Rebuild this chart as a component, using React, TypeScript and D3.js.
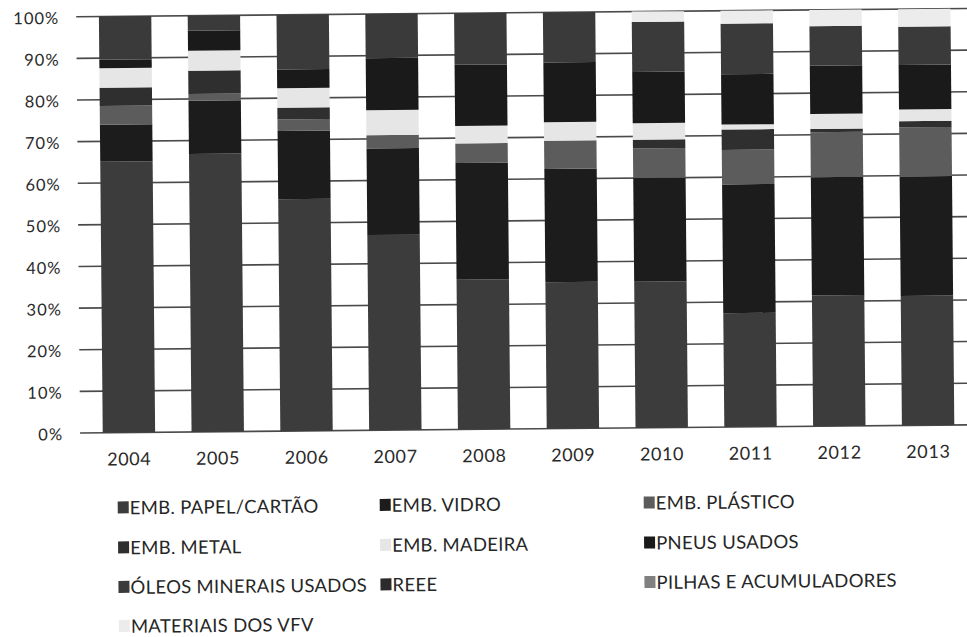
import React from "react";
import * as d3 from "d3";

const years = ["2004", "2005", "2006", "2007", "2008", "2009", "2010", "2011", "2012", "2013"];

const papel = [65.1, 66.8, 55.7, 46.9, 36.0, 35.2, 35.1, 27.4, 31.4, 31.1];
const vidro = [8.9, 12.8, 16.4, 20.8, 28.0, 27.2, 24.9, 31.0, 28.4, 28.7];
const plastico = [4.5, 1.6, 2.8, 3.2, 4.7, 6.8, 7.1, 8.3, 10.8, 11.8];
const metal = [4.4, 5.6, 2.8, 0, 0, 0, 2.1, 4.9, 0.8, 1.5];
const madeira = [4.7, 4.8, 4.7, 6.0, 4.2, 4.4, 4.0, 1.2, 3.6, 2.8];
const pneus = [2.0, 4.8, 4.5, 12.5, 14.7, 14.4, 12.3, 12.1, 11.6, 10.7];
const oleos = [10.4, 3.6, 13.1, 10.6, 12.4, 12.0, 12.0, 12.2, 9.5, 9.2];
const reee = [0, 0, 0, 0, 0, 0, 0, 0, 0, 0];
const pilhas = [0, 0, 0, 0, 0, 0, 0, 0, 0, 0];
const vfv = [0, 0, 0, 0, 0, 0, 2.5, 3.1, 3.9, 4.2];

const seriesNames = [
  "EMB. PAPEL/CARTÃO",
  "EMB. VIDRO",
  "EMB. PLÁSTICO",
  "EMB. METAL",
  "EMB. MADEIRA",
  "PNEUS USADOS",
  "ÓLEOS MINERAIS USADOS",
  "REEE",
  "PILHAS E ACUMULADORES",
  "MATERIAIS DOS VFV",
];
const seriesValues = [papel, vidro, plastico, metal, madeira, pneus, oleos, reee, pilhas, vfv];
const seriesColors = [
  "#3c3c3c",
  "#1c1c1c",
  "#5c5c5c",
  "#2f2f2f",
  "#e6e6e6",
  "#1a1a1a",
  "#3a3a3a",
  "#2b2b2b",
  "#808080",
  "#ececec",
];

const yTicks = [0, 0.1, 0.2, 0.3, 0.4, 0.5, 0.6, 0.7, 0.8, 0.9, 1.0];

const W = 967;
const H = 637;
const FONT = "Lato, 'Open Sans', sans-serif";

export default function App() {
  const rows = years.map((y, i) => {
    const r: Record<string, any> = { year: y };
    seriesNames.forEach((s, k) => (r[s] = seriesValues[k][i]));
    return r;
  });
  const stacked = d3
    .stack<any>()
    .keys(seriesNames)
    .offset(d3.stackOffsetExpand)(rows);

  const x = d3.scaleBand<string>().domain(years).range([83.5, 971.5]).paddingInner(0.41).paddingOuter(0.205);
  const y = d3.scaleLinear().domain([0, 1]).range([429.3, 13]);

  const legendCols = [116, 378, 642];
  const legendRows = [504, 544, 583.5, 622.5];

  return (
    <svg
      width={W}
      height={H}
      style={{ position: "absolute", left: 0, top: 0, background: "#fff" }}
    >
      <rect x={0} y={0} width={W} height={H} fill="#fff" />
      <g transform="rotate(-0.53, 483, 318)">
        {yTicks.map((t) => (
          <g key={t}>
            <line x1={79} x2={975} y1={y(t)} y2={y(t)} stroke="#4a4a4a" strokeWidth={1.6} />
            <text
              x={62}
              y={y(t) + 1}
              textAnchor="end"
              dominantBaseline="central"
              fontFamily={FONT}
              fontSize={16.5}
              letterSpacing={1}
              fill="#2a2a2a"
            >
              {d3.format(".0%")(t)}
            </text>
          </g>
        ))}
        {stacked.map((layer, k) => (
          <g key={layer.key} fill={seriesColors[k]}>
            {layer.map((d, i) => {
              const h = y(d[0]) - y(d[1]);
              if (h <= 0) return null;
              return (
                <rect
                  key={i}
                  x={x(years[i])}
                  y={y(d[1])}
                  width={x.bandwidth()}
                  height={h}
                />
              );
            })}
          </g>
        ))}
        {years.map((yr) => (
          <text
            key={yr}
            x={(x(yr) as number) + x.bandwidth() / 2}
            y={455}
            textAnchor="middle"
            dominantBaseline="central"
            fontFamily={FONT}
            fontSize={18}
            letterSpacing={0.6}
            fill="#2a2a2a"
          >
            {yr}
          </text>
        ))}
        {seriesNames.map((s, k) => {
          const col = k % 3;
          const row = Math.floor(k / 3);
          const lx = legendCols[col];
          const ly = legendRows[row];
          return (
            <g key={s}>
              <rect x={lx} y={ly - 6} width={11} height={12} fill={seriesColors[k]} />
              <text
                x={lx + 12}
                y={ly}
                dominantBaseline="central"
                fontFamily={FONT}
                fontSize={18.5}
                letterSpacing={0.3}
                fill="#262626"
              >
                {s}
              </text>
            </g>
          );
        })}
      </g>
    </svg>
  );
}
